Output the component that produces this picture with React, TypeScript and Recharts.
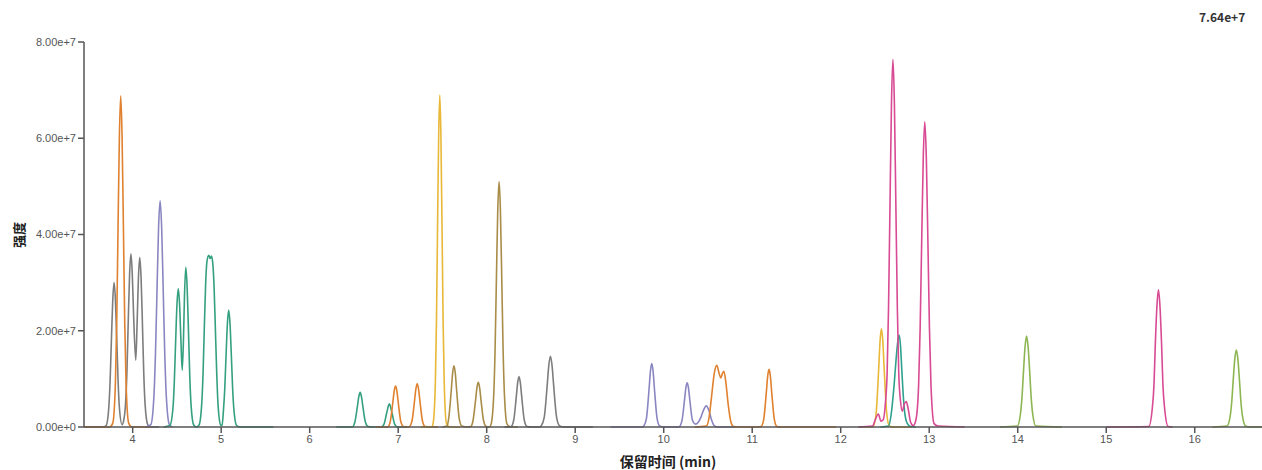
import React from 'react';
import { LineChart, Line, XAxis, YAxis } from 'recharts';

type Pt = { t: number; v: number };

const X_TICKS = [4, 5, 6, 7, 8, 9, 10, 11, 12, 13, 14, 15, 16];
const Y_TICKS = [0, 2e7, 4e7, 6e7, 8e7];
const MAX_LABEL = '7.64e+7';

const toPts = (rows: number[][]): Pt[] => rows.map(([t, v]) => ({ t, v: v * 1e7 }));

// retention time (min), intensity (x1e7)
const grayEarly = toPts([
  [3.45, 0], [3.66, 0], [3.7, 0.03], [3.73, 0.4], [3.745, 0.96], [3.76, 1.83], [3.775, 2.64], [3.79, 3.0],
  [3.805, 2.64], [3.82, 1.83], [3.835, 0.96], [3.85, 0.4], [3.88, 0.05], [3.9, 0.15], [3.92, 0.5],
  [3.935, 1.15], [3.95, 2.2], [3.965, 3.17], [3.98, 3.6], [3.995, 3.2], [4.01, 2.35], [4.035, 1.39],
  [4.05, 2.15], [4.065, 3.1], [4.08, 3.52], [4.095, 3.1], [4.11, 2.15], [4.125, 1.13], [4.14, 0.48],
  [4.17, 0.05], [4.2, 0], [4.3, 0],
]);
const orangeEarly = toPts([
  [3.45, 0], [3.74, 0], [3.775, 0.08], [3.805, 0.93], [3.82, 2.2], [3.835, 4.2], [3.85, 6.05], [3.865, 6.88],
  [3.88, 6.05], [3.895, 4.2], [3.91, 2.2], [3.925, 0.93], [3.955, 0.08], [3.99, 0], [4.2, 0],
]);
const purpleEarly = toPts([
  [4.15, 0], [4.205, 0.05], [4.24, 0.64], [4.2575, 1.52], [4.275, 2.85], [4.2925, 4.14], [4.31, 4.7],
  [4.3275, 4.14], [4.345, 2.85], [4.3625, 1.52], [4.38, 0.64], [4.415, 0.05], [4.45, 0],
]);
const greenEarly = toPts([
  [4.35, 0], [4.42, 0.03], [4.455, 0.39], [4.47, 0.92], [4.485, 1.75], [4.5, 2.53], [4.515, 2.87], [4.53, 2.55],
  [4.545, 1.8], [4.56, 1.18], [4.575, 1.9], [4.585, 2.7], [4.6, 3.32], [4.615, 2.92], [4.63, 2.03],
  [4.645, 1.06], [4.66, 0.45], [4.69, 0.04], [4.72, 0], [4.75, 0.04], [4.78, 0.48], [4.795, 1.1],
  [4.81, 2.1], [4.825, 3.0], [4.84, 3.45], [4.86, 3.57], [4.875, 3.5], [4.89, 3.55], [4.905, 3.4],
  [4.92, 2.9], [4.935, 2.0], [4.95, 1.1], [4.965, 0.45], [4.995, 0.04], [5.01, 0.03], [5.025, 0.33],
  [5.04, 0.78], [5.055, 1.48], [5.07, 2.14], [5.085, 2.43], [5.1, 2.14], [5.115, 1.48], [5.13, 0.78],
  [5.145, 0.33], [5.175, 0.03], [5.22, 0], [5.59, 0],
]);
const greenMid = toPts([
  [6.3, 0], [6.48, 0], [6.51, 0.1], [6.54, 0.44], [6.555, 0.63], [6.57, 0.72], [6.585, 0.63], [6.6, 0.44],
  [6.63, 0.1], [6.66, 0.01], [6.7, 0], [6.81, 0], [6.84, 0.06], [6.87, 0.29], [6.9, 0.48], [6.93, 0.29],
  [6.96, 0.06], [6.99, 0], [7.1, 0],
]);
const orangeMid = toPts([
  [6.75, 0], [6.88, 0], [6.91, 0.11], [6.94, 0.52], [6.955, 0.75], [6.97, 0.85], [6.985, 0.75], [7.0, 0.52],
  [7.03, 0.11], [7.06, 0.01], [7.12, 0], [7.155, 0.12], [7.185, 0.55], [7.2, 0.79], [7.215, 0.9],
  [7.23, 0.79], [7.245, 0.55], [7.275, 0.12], [7.305, 0.01], [7.35, 0], [7.45, 0],
]);
const goldMid = toPts([
  [7.25, 0], [7.38, 0], [7.395, 0.08], [7.42, 0.93], [7.4325, 2.2], [7.445, 4.2], [7.4575, 6.07], [7.47, 6.9],
  [7.4825, 6.07], [7.495, 4.2], [7.5075, 2.2], [7.52, 0.93], [7.545, 0.08], [7.58, 0], [7.7, 0],
]);
const oliveMid = toPts([
  [7.5, 0], [7.55, 0.02], [7.57, 0.17], [7.6, 0.77], [7.615, 1.12], [7.63, 1.27], [7.645, 1.12], [7.66, 0.77],
  [7.69, 0.17], [7.72, 0.02], [7.78, 0], [7.82, 0.01], [7.845, 0.13], [7.875, 0.57], [7.89, 0.82],
  [7.905, 0.93], [7.92, 0.82], [7.935, 0.57], [7.965, 0.13], [7.995, 0.01], [8.03, 0], [8.05, 0.06],
  [8.08, 0.69], [8.095, 1.63], [8.11, 3.1], [8.125, 4.5], [8.14, 5.1], [8.155, 4.5], [8.17, 3.1],
  [8.185, 1.63], [8.2, 0.69], [8.23, 0.06], [8.27, 0], [8.35, 0],
]);
const grayMid = toPts([
  [8.2, 0], [8.275, 0.01], [8.305, 0.14], [8.335, 0.64], [8.35, 0.92], [8.365, 1.05], [8.38, 0.92],
  [8.395, 0.64], [8.425, 0.14], [8.455, 0.01], [8.5, 0], [8.6, 0], [8.615, 0.02], [8.65, 0.2], [8.685, 0.9],
  [8.7, 1.25], [8.72, 1.47], [8.74, 1.25], [8.755, 0.9], [8.79, 0.2], [8.825, 0.02], [8.87, 0], [9.2, 0],
]);
const purpleLate = toPts([
  [9.4, 0], [9.76, 0], [9.775, 0.02], [9.805, 0.18], [9.835, 0.8], [9.85, 1.16], [9.865, 1.32], [9.88, 1.16],
  [9.895, 0.8], [9.925, 0.18], [9.955, 0.02], [10.0, 0], [10.17, 0], [10.205, 0.12], [10.235, 0.56],
  [10.25, 0.81], [10.265, 0.92], [10.28, 0.81], [10.295, 0.56], [10.325, 0.14], [10.36, 0.06],
  [10.39, 0.1], [10.42, 0.2], [10.45, 0.35], [10.48, 0.44], [10.51, 0.35], [10.54, 0.15], [10.57, 0.03],
  [10.61, 0], [10.8, 0],
]);
const orangeLate = toPts([
  [10.35, 0], [10.48, 0.02], [10.51, 0.17], [10.54, 0.62], [10.57, 1.1], [10.6, 1.28], [10.625, 1.12],
  [10.645, 1.02], [10.665, 1.12], [10.68, 1.16], [10.7, 0.96], [10.73, 0.45], [10.76, 0.1], [10.79, 0.01],
  [10.83, 0], [11.07, 0], [11.1, 0.01], [11.13, 0.16], [11.16, 0.73], [11.175, 1.06], [11.19, 1.2],
  [11.205, 1.06], [11.22, 0.73], [11.25, 0.16], [11.28, 0.01], [11.32, 0], [11.95, 0],
]);
const goldLate = toPts([
  [12.2, 0], [12.36, 0], [12.37, 0.02], [12.4, 0.28], [12.43, 1.24], [12.445, 1.8], [12.46, 2.04],
  [12.475, 1.8], [12.49, 1.24], [12.52, 0.28], [12.55, 0.02], [12.6, 0], [12.8, 0],
]);
const tealLate = toPts([
  [12.45, 0], [12.54, 0.02], [12.57, 0.26], [12.6, 0.8], [12.63, 1.5], [12.645, 1.78], [12.66, 1.91],
  [12.675, 1.7], [12.69, 1.2], [12.705, 0.7], [12.72, 0.35], [12.75, 0.08], [12.79, 0.01], [12.85, 0],
]);
const pinkLate = toPts([
  [12.2, 0], [12.36, 0.02], [12.39, 0.15], [12.425, 0.27], [12.455, 0.12], [12.48, 0.15], [12.505, 0.5],
  [12.524, 1.1], [12.54, 2.45], [12.557, 4.63], [12.5735, 6.72], [12.59, 7.64], [12.6065, 6.72],
  [12.623, 4.63], [12.64, 2.45], [12.656, 1.1], [12.675, 0.55], [12.695, 0.33], [12.72, 0.48],
  [12.74, 0.53], [12.76, 0.4], [12.79, 0.1], [12.82, 0.03], [12.85, 0.15], [12.88, 0.86], [12.8975, 2.05],
  [12.915, 3.87], [12.9325, 5.58], [12.95, 6.34], [12.9675, 5.58], [12.985, 3.87], [13.0025, 2.05],
  [13.02, 0.86], [13.055, 0.07], [13.1, 0.02], [13.4, 0],
]);
const pinkEnd = toPts([
  [15.0, 0], [15.48, 0.01], [15.52, 0.38], [15.54, 0.9], [15.555, 1.74], [15.5725, 2.5], [15.59, 2.85],
  [15.6075, 2.5], [15.625, 1.74], [15.64, 0.9], [15.66, 0.38], [15.7, 0.01], [15.75, 0],
]);
const limeA = toPts([
  [13.8, 0], [13.995, 0.02], [14.03, 0.26], [14.0475, 0.6], [14.065, 1.15], [14.0825, 1.66], [14.1, 1.89],
  [14.1175, 1.66], [14.135, 1.15], [14.1525, 0.6], [14.17, 0.26], [14.205, 0.02], [14.5, 0],
]);
const limeB = toPts([
  [16.2, 0], [16.365, 0.02], [16.4, 0.22], [16.4175, 0.51], [16.435, 0.98], [16.4525, 1.41], [16.47, 1.6],
  [16.4875, 1.41], [16.505, 0.98], [16.5225, 0.51], [16.54, 0.22], [16.575, 0.02], [16.62, 0], [16.76, 0],
]);

const traces: { data: Pt[]; color: string }[] = [
  { data: grayEarly, color: '#7d7d7d' },
  { data: orangeEarly, color: '#e0812f' },
  { data: purpleEarly, color: '#8a86c2' },
  { data: greenEarly, color: '#34a07f' },
  { data: greenMid, color: '#34a07f' },
  { data: orangeMid, color: '#e0812f' },
  { data: goldMid, color: '#e9b838' },
  { data: oliveMid, color: '#a98c48' },
  { data: grayMid, color: '#7d7d7d' },
  { data: purpleLate, color: '#8a86c2' },
  { data: orangeLate, color: '#e0812f' },
  { data: goldLate, color: '#e9b838' },
  { data: tealLate, color: '#2fa08e' },
  { data: pinkLate, color: '#d84a93' },
  { data: pinkEnd, color: '#d84a93' },
  { data: limeA, color: '#8db652' },
  { data: limeB, color: '#8db652' },
];

const fmtY = (v: number) => v.toExponential(2);
const tickStyle = { fontSize: 11, fill: '#555', fontFamily: 'Liberation Sans, Arial, sans-serif' };
const boldFont = '"Noto Sans CJK SC", "Noto Sans", sans-serif';

export default function App() {
  return (
    <div style={{ position: 'absolute', left: 0, top: 0, width: 1262, height: 470, background: '#fff' }}>
      <LineChart width={1262} height={470} margin={{ top: 42, right: 0, bottom: 0, left: 0 }}>
        <XAxis
          dataKey="t"
          type="number"
          domain={[3.45, 16.76]}
          ticks={X_TICKS}
          allowDataOverflow
          height={43}
          tickSize={6}
          tick={tickStyle}
          stroke="#555"
          strokeWidth={1.5}
        />
        <YAxis
          type="number"
          domain={[0, 8e7]}
          ticks={Y_TICKS}
          width={84}
          tickSize={6}
          tickFormatter={fmtY}
          tick={tickStyle}
          stroke="#555"
          strokeWidth={1.5}
        />
        {traces.map((tr, i) => (
          <Line
            key={i}
            data={tr.data}
            dataKey="v"
            type="monotone"
            stroke={tr.color}
            strokeWidth={1.6}
            dot={false}
            activeDot={false}
            isAnimationActive={false}
          />
        ))}
      </LineChart>
      <div style={{ position: 'absolute', left: 1199, top: 8, fontFamily: boldFont, fontWeight: 700, fontSize: 12, color: '#333' }}>
        {MAX_LABEL}
      </div>
      <div
        style={{
          position: 'absolute', left: 18, top: 235, transform: 'translate(-50%, -50%) rotate(-90deg)',
          fontFamily: boldFont, fontWeight: 700, fontSize: 13, color: '#222', whiteSpace: 'nowrap',
        }}
      >
        强度
      </div>
      <div
        style={{
          position: 'absolute', left: 668, top: 461, transform: 'translate(-50%, -50%)',
          fontFamily: boldFont, fontWeight: 700, fontSize: 14, color: '#222', whiteSpace: 'nowrap',
        }}
      >
        保留时间 (min)
      </div>
    </div>
  );
}
